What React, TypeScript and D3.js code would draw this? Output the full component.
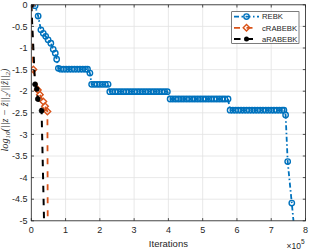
import React from "react";
import * as d3 from "d3";

// ---- data (iterations in thousands, values = log10 relative error) ----
const rebkIter = [
  0, 11, 20, 28, 35, 42, 49, 57, 64, 70, 74, 79,
  86, 94, 102, 110, 118, 126, 134, 142, 150, 158, 164,
  171,
  176, 184, 192, 200, 208, 216, 224,
  229, 237, 245, 253, 261, 269, 277, 285, 293, 301, 309, 317, 325, 333, 341, 349, 357, 365, 373, 381, 389, 397,
  405, 413, 421, 429, 437, 445, 453, 461, 469, 477, 485, 493, 501, 509, 517, 525, 533, 541, 549, 557, 565, 574,
  580, 588, 596, 604, 612, 620, 628, 636, 644, 652, 660, 668, 676, 684, 692, 700, 708, 716, 724, 732, 737,
  742, 748, 760, 772,
];
const rebkVal = [
  0, -0.02, -0.26, -0.58, -0.66, -0.73, -0.81, -0.89, -1.03, -1.12, -1.26, -1.47,
  -1.49, -1.49, -1.49, -1.49, -1.49, -1.49, -1.49, -1.49, -1.49, -1.49, -1.49,
  -1.58,
  -1.84, -1.84, -1.84, -1.84, -1.84, -1.84, -1.84,
  -2.01, -2.01, -2.01, -2.01, -2.01, -2.01, -2.01, -2.01, -2.01, -2.01, -2.01, -2.01, -2.01, -2.01, -2.01, -2.01, -2.01, -2.01, -2.01, -2.01, -2.01, -2.01,
  -2.18, -2.18, -2.18, -2.18, -2.18, -2.18, -2.18, -2.18, -2.18, -2.18, -2.18, -2.18, -2.18, -2.18, -2.18, -2.18, -2.18, -2.18, -2.18, -2.18, -2.18, -2.18,
  -2.44, -2.44, -2.44, -2.44, -2.44, -2.44, -2.44, -2.44, -2.44, -2.44, -2.44, -2.44, -2.44, -2.44, -2.44, -2.44, -2.44, -2.44, -2.44, -2.44, -2.44,
  -2.55, -3.63, -4.59, -5.6,
];
const cIter = [0, 6, 19, 25, 35, 40, 47, 49];
const cVal = [0, -1.5, -1.97, -2.08, -2.24, -2.35, -2.47, -8];
const aIter = [0, 11, 16, 19, 30, 40];
const aVal = [0, -1.84, -1.95, -2.18, -2.45, -6];

const xTicks = [0, 1, 2, 3, 4, 5, 6, 7, 8];
const yTicks = [0, -0.5, -1, -1.5, -2, -2.5, -3, -3.5, -4, -4.5, -5];
const seriesNames = ["REBK", "cRABEBK", "aRABEBK"];

const BLUE = "#0072BD";
const ORANGE = "#D95319";
const BLACK = "#000000";
const AX = "#262626";
const FONT = "'Liberation Sans', Arial, Helvetica, sans-serif";

export default function App() {
  const W = 309, H = 249;
  const x = d3.scaleLinear().domain([0, 8e5]).range([31.3, 305.5]);
  const y = d3.scaleLinear().domain([-5, 0]).range([220.8, 4.8]);
  const [x0, x1] = x.range();
  const [y0, y1] = y.range();

  const mk = (it: number[], v: number[]) => it.map((d, i) => [x(d * 1000), y(v[i])] as [number, number]);
  const rebk = mk(rebkIter, rebkVal);
  const crab = mk(cIter, cVal);
  const arab = mk(aIter, aVal);
  const line = d3.line();

  const diamond = (cx: number, cy: number, r: number) =>
    `M${cx},${cy - r}L${cx + r},${cy}L${cx},${cy + r}L${cx - r},${cy}Z`;

  const legY = [16.6, 27.8, 39];

  return (
    <svg width={W} height={H} style={{ position: "absolute", left: 0, top: 0, background: "#fff" }}>
      <defs>
        <clipPath id="plotclip">
          <rect x={x0} y={y1} width={x1 - x0} height={y0 - y1} />
        </clipPath>
      </defs>
      <rect x={0} y={0} width={W} height={H} fill="#fff" />
      {/* grid */}
      <g stroke="#e2e2e2" strokeWidth={0.8}>
        {xTicks.map((t) => (
          <line key={"gx" + t} x1={x(t * 1e5)} x2={x(t * 1e5)} y1={y1} y2={y0} />
        ))}
        {yTicks.map((t) => (
          <line key={"gy" + t} x1={x0} x2={x1} y1={y(t)} y2={y(t)} />
        ))}
      </g>
      {/* series */}
      <g clipPath="url(#plotclip)">
        <path d={line(rebk) || ""} fill="none" stroke={BLUE} strokeWidth={1.8} strokeDasharray="5,2.5,1.5,2.5" />
        {rebk.map((p, i) => (
          <circle key={"r" + i} cx={p[0]} cy={p[1]} r={2.7} fill="none" stroke={BLUE} strokeWidth={1.4} />
        ))}
        <path d={line(crab) || ""} fill="none" stroke={ORANGE} strokeWidth={1.8} strokeDasharray="6,7" />
        {crab.map((p, i) => (
          <path key={"c" + i} d={diamond(p[0], p[1], 3.3)} fill="none" stroke={ORANGE} strokeWidth={1.4} />
        ))}
        <path d={line(arab) || ""} fill="none" stroke={BLACK} strokeWidth={2} strokeDasharray="6.5,6.5" />
        {arab.map((p, i) => (
          <circle key={"a" + i} cx={p[0]} cy={p[1]} r={2.5} fill={BLACK} stroke={BLACK} strokeWidth={0.6} />
        ))}
      </g>
      {/* axes box and ticks */}
      <rect x={x0} y={y1} width={x1 - x0} height={y0 - y1} fill="none" stroke={AX} strokeWidth={0.8} />
      <g stroke={AX} strokeWidth={0.8}>
        {xTicks.map((t) => (
          <g key={"tx" + t}>
            <line x1={x(t * 1e5)} x2={x(t * 1e5)} y1={y0} y2={y0 - 2.7} />
            <line x1={x(t * 1e5)} x2={x(t * 1e5)} y1={y1} y2={y1 + 2.7} />
          </g>
        ))}
        {yTicks.map((t) => (
          <g key={"ty" + t}>
            <line x1={x0} x2={x0 + 2.7} y1={y(t)} y2={y(t)} />
            <line x1={x1} x2={x1 - 2.7} y1={y(t)} y2={y(t)} />
          </g>
        ))}
      </g>
      <g fontFamily={FONT} fontSize={9} fill={AX}>
        {xTicks.map((t) => (
          <text key={"lx" + t} x={x(t * 1e5)} y={233.3} textAnchor="middle">
            {String(t)}
          </text>
        ))}
        {yTicks.map((t) => (
          <text key={"ly" + t} x={27.6} y={y(t) + 3.2} textAnchor="end">
            {String(t)}
          </text>
        ))}
        <text x={(x0 + x1) / 2} y={246.5} textAnchor="middle" fontSize={9.5}>
          Iterations
        </text>
        <text x={286.5} y={248.5} fontSize={8.5}>
          ×10
          <tspan fontSize={6.5} dy={-4.3}>5</tspan>
        </text>
      </g>
      {/* y label */}
      <text
        transform="translate(8,110) rotate(-90)"
        textAnchor="middle"
        fontFamily="'Liberation Serif', 'DejaVu Serif', serif"
        fontStyle="italic"
        fontSize={10.2}
        fill={AX}
      >
        log
        <tspan fontSize={7} dy={2.4}>10</tspan>
        <tspan dy={-2.4}>(||z − ẑ||</tspan>
        <tspan fontSize={7} dy={2.4}>2</tspan>
        <tspan dy={-2.4}>/||ẑ||</tspan>
        <tspan fontSize={7} dy={2.4}>2</tspan>
        <tspan dy={-2.4}>)</tspan>
      </text>
      {/* legend */}
      <rect x={231.7} y={11.7} width={67.3} height={31.6} fill="#fff" stroke={AX} strokeWidth={0.6} />
      {seriesNames.map((name, i) => {
        const ly = legY[i];
        const lx1 = 234, lx2 = 259, mx = 246.5;
        return (
          <g key={name}>
            {i === 0 && (
              <>
                <line x1={lx1} x2={lx2} y1={ly} y2={ly} stroke={BLUE} strokeWidth={1.8} strokeDasharray="5,2.5,1.5,2.5" />
                <circle cx={mx} cy={ly} r={2.7} fill="none" stroke={BLUE} strokeWidth={1.4} />
              </>
            )}
            {i === 1 && (
              <>
                <line x1={lx1} x2={lx2} y1={ly} y2={ly} stroke={ORANGE} strokeWidth={1.8} strokeDasharray="6,6.5" />
                <path d={diamond(mx, ly, 3.3)} fill="none" stroke={ORANGE} strokeWidth={1.4} />
              </>
            )}
            {i === 2 && (
              <>
                <line x1={lx1} x2={lx2} y1={ly} y2={ly} stroke={BLACK} strokeWidth={2} strokeDasharray="6.5,6" />
                <circle cx={mx} cy={ly} r={2.5} fill={BLACK} />
              </>
            )}
            <text x={262} y={ly + 2.7} fontFamily={FONT} fontSize={7.7} fill={AX}>
              {name}
            </text>
          </g>
        );
      })}
    </svg>
  );
}
